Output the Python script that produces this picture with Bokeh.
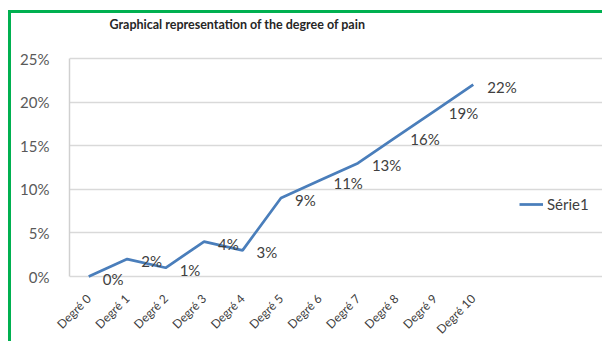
from bokeh.plotting import figure
from bokeh.models import (ColumnDataSource, Range1d, FixedTicker, NumeralTickFormatter,
                          Legend, LegendItem, Label)
from bokeh.core.properties import value
from bokeh.embed import file_html
from bokeh.resources import INLINE
import math

categories = ["Degré 0", "Degré 1", "Degré 2", "Degré 3", "Degré 4", "Degré 5",
              "Degré 6", "Degré 7", "Degré 8", "Degré 9", "Degré 10"]
values = [0.00, 0.02, 0.01, 0.04, 0.03, 0.09, 0.11, 0.13, 0.16, 0.19, 0.22]
y_ticks = [0.0, 0.05, 0.10, 0.15, 0.20, 0.25]
series_name = "Série1"
title_text = "Graphical representation of the degree of pain"

n = len(categories)
xs = list(range(n))
src = ColumnDataSource(dict(x=xs, val=values,
                            lab=[f"{round(v*100)}%" for v in values]))

# layout geometry (pixels)
W, H = 594, 331
left, bottom = 58, 58
frame_w = W - left
frame_h = H - bottom
px_per_cat = 423 / n
px_per_unit_y = 872
x0 = -0.5
x1 = x0 + frame_w / px_per_cat
y0 = -10 / px_per_unit_y
y1 = y0 + frame_h / px_per_unit_y

p = figure(width=W, height=H, x_range=Range1d(x0, x1), y_range=Range1d(y0, y1),
           output_backend="svg", toolbar_location=None,
           min_border_left=left, min_border_right=0, min_border_top=0,
           min_border_bottom=bottom)
p.styles = {"margin-left": "8px", "margin-top": "10px",
            "border-left": "3px solid #00b050", "border-top": "3px solid #00b050"}

p.outline_line_color = None
p.background_fill_color = "white"
p.border_fill_color = "white"

p.xgrid.grid_line_color = None
p.ygrid.grid_line_color = "#d9d9d9"
p.ygrid.grid_line_width = 1.5
p.ygrid.bounds = (-0.5, n - 0.5)
p.ygrid.ticker = FixedTicker(ticks=y_ticks)

p.yaxis.ticker = FixedTicker(ticks=y_ticks)
p.yaxis.bounds = (0, y_ticks[-1])
p.yaxis.formatter = NumeralTickFormatter(format="0%")
p.yaxis.axis_line_color = "#d0d0d0"
p.yaxis.axis_line_width = 1.5
p.yaxis.major_tick_line_color = None
p.yaxis.minor_tick_line_color = None
p.yaxis.major_label_text_font = "Lato"
p.yaxis.major_label_text_font_size = "15px"
p.yaxis.major_label_text_color = "#595959"
p.yaxis.major_label_standoff = 14

p.xaxis.ticker = FixedTicker(ticks=xs)
p.xaxis.major_label_overrides = {i: c for i, c in zip(xs, categories)}
p.xaxis.axis_line_color = None
p.xaxis.major_tick_line_color = None
p.xaxis.minor_tick_line_color = None
p.xaxis.major_label_orientation = math.pi / 4
p.xaxis.major_label_text_font = "Lato"
p.xaxis.major_label_text_font_size = "12px"
p.xaxis.major_label_text_color = "#404040"
p.xaxis.major_label_standoff = 4

r = p.line("x", "val", source=src, line_color="#4a7ebb", line_width=2.75)
p.text("x", "val", text="lab", source=src, x_offset=14, y_offset=2,
       text_align="left", text_baseline="middle", text_font=value("Lato"),
       text_font_size="15px", text_color="#404040")

title = Label(x=0.54, y=y1 - 11 / px_per_unit_y, text=title_text,
              text_font="Lato", text_font_style="bold", text_font_size="12.5px",
              text_color="#262626", text_baseline="middle", text_align="left")
p.add_layout(title)

legend = Legend(items=[LegendItem(label=series_name, renderers=[r])],
                location=(450, 73), padding=0, margin=0, border_line_color=None,
                background_fill_alpha=0, glyph_width=24, glyph_height=16,
                label_height=16, label_standoff=4,
                label_text_font="Lato", label_text_font_size="15px",
                label_text_color="#404040")
p.add_layout(legend, "center")

open("out.html", "w").write(file_html(p, INLINE))
